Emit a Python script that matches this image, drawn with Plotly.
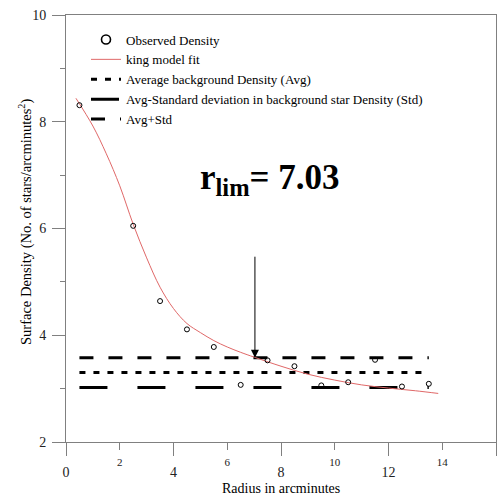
import plotly.graph_objects as go

# ---------------- data ----------------
radius_obs = [0.5, 2.5, 3.5, 4.5, 5.5, 6.5, 7.5, 8.5, 9.5, 10.5, 11.5, 12.5, 13.5]
density_obs = [8.31, 6.05, 4.64, 4.11, 3.78, 3.07, 3.53, 3.42, 3.06, 3.12, 3.54, 3.04, 3.09]

king_r = [0.37, 1.0, 1.5, 2.0, 2.5, 3.0, 3.5, 4.0, 4.5, 5.0, 5.5, 6.0, 6.5, 7.0,
          8.0, 9.0, 10.0, 11.0, 12.0, 13.0, 13.85]
king_f = [8.44, 7.92, 7.40, 6.80, 6.08, 5.45, 4.90, 4.50, 4.22, 4.05, 3.90, 3.78, 3.68, 3.59,
          3.42, 3.27, 3.16, 3.07, 3.01, 2.96, 2.91]

bg_r = [0.5, 13.5]
avg_density = 3.30
std_density = 0.28
avg_line = [avg_density, avg_density]
avg_minus_std = [avg_density - std_density] * 2
avg_plus_std = [avg_density + std_density] * 2

r_lim = 7.03
arrow_top = 5.5

x_major_ticks = [0, 4, 8, 12, 16]
x_minor_ticks = [2, 6, 10, 14]
y_major_ticks = [2, 4, 6, 8, 10]
y_minor_ticks = [3, 5, 7, 9]

SERIF = "Liberation Serif, Times New Roman, serif"
AXC = "#808080"

fig = go.Figure()

# background lines
fig.add_trace(go.Scatter(x=bg_r, y=avg_line, mode="lines",
                         line=dict(color="black", width=3, dash="6px,8px"),
                         name="Average background Density (Avg)", legendrank=3))
fig.add_trace(go.Scatter(x=bg_r, y=avg_minus_std, mode="lines",
                         line=dict(color="black", width=3, dash="28px,30px"),
                         name="Avg-Standard deviation in background star Density (Std)", legendrank=4))
fig.add_trace(go.Scatter(x=bg_r, y=avg_plus_std, mode="lines",
                         line=dict(color="black", width=3, dash="14px,15px"),
                         name="Avg+Std", legendrank=5))
# king fit
fig.add_trace(go.Scatter(x=king_r, y=king_f, mode="lines", line_shape="spline",
                         line=dict(color="#e06868", width=1),
                         name="king model fit", legendrank=2))
# observed
fig.add_trace(go.Scatter(x=radius_obs, y=density_obs, mode="markers",
                         marker=dict(symbol="circle-open", size=5, color="black",
                                     line=dict(width=1, color="black")),
                         showlegend=False, name="Observed Density"))
# legend entry for observed (bigger symbol), on secondary x axis
fig.add_trace(go.Scatter(x=[None], y=[None], mode="markers", xaxis="x2",
                         marker=dict(symbol="circle-open", size=9, color="black",
                                     line=dict(width=1.6, color="black")),
                         name="Observed Density", legendrank=1))

W, H = 498, 497
ML, MR, MT, MB = 66, 2, 15, 55
PW, PH = W - ML - MR, H - MT - MB


def px_x(p):
    return (p - ML) / PW


def px_y(p):
    return (H - MB - p) / PH


fig.update_layout(
    width=W, height=H,
    margin=dict(l=ML, r=MR, t=MT, b=MB, pad=0),
    paper_bgcolor="white", plot_bgcolor="white",
    font=dict(family=SERIF, color="black", size=13),
    xaxis=dict(range=[0, 16], tickmode="array", tickvals=x_major_ticks,
               ticks="outside", ticklen=13, tickcolor=AXC, tickwidth=1,
               ticklabelstandoff=4,
               tickfont=dict(size=14, family=SERIF, color="#222"),
               showline=True, linecolor=AXC, linewidth=1, mirror=True,
               showgrid=False, zeroline=False),
    xaxis2=dict(range=[0, 16], overlaying="x", anchor="y", side="bottom",
                tickmode="array", tickvals=x_minor_ticks,
                ticks="outside", ticklen=7, tickcolor=AXC, tickwidth=1,
                ticklabelstandoff=3,
                tickfont=dict(size=11, family=SERIF, color="#222"),
                showline=False, showgrid=False, zeroline=False),
    yaxis=dict(range=[2, 10], tickmode="array", tickvals=y_major_ticks,
               ticks="outside", ticklen=13, tickcolor=AXC, tickwidth=1,
               ticklabelstandoff=3,
               tickfont=dict(size=14, family=SERIF, color="#222"),
               minor=dict(tickmode="array", tickvals=y_minor_ticks, ticks="outside",
                          ticklen=5, tickcolor=AXC),
               showline=True, linecolor=AXC, linewidth=1, mirror=True,
               showgrid=False, zeroline=False),
    legend=dict(x=px_x(86), y=px_y(24.5), xanchor="left", yanchor="top",
                bgcolor="rgba(0,0,0,0)", borderwidth=0,
                font=dict(family=SERIF, size=13, color="black"),
                itemsizing="trace"),
    showlegend=True,
)

annotations = [
    dict(text="Radius in arcminutes", xref="paper", yref="paper",
         x=0.5, y=px_y(489), xanchor="center", yanchor="middle",
         showarrow=False, font=dict(family=SERIF, size=14)),
    dict(text="Surface Density (No. of stars/arcminutes<sup>2</sup>)", xref="paper", yref="paper",
         x=px_x(25), y=px_y(222), xanchor="center", yanchor="middle", textangle=-90,
         showarrow=False, font=dict(family=SERIF, size=14.5)),
    dict(text="<b>r<sub>lim</sub>= 7.03</b>", xref="x", yref="y",
         x=4.93, y=6.92, xanchor="left", yanchor="middle",
         showarrow=False, font=dict(family=SERIF, size=35, color="black")),
    dict(text="", xref="x", yref="y", x=r_lim, y=avg_plus_std[0],
         ax=r_lim, ay=arrow_top, axref="x", ayref="y",
         showarrow=True, arrowhead=2, arrowsize=1.6, arrowwidth=1,
         arrowcolor="black", standoff=0),
]
fig.update_layout(annotations=annotations)

fig.write_html("out.html", config={"displayModeBar": False},
               post_script="document.body.style.margin='0';")
